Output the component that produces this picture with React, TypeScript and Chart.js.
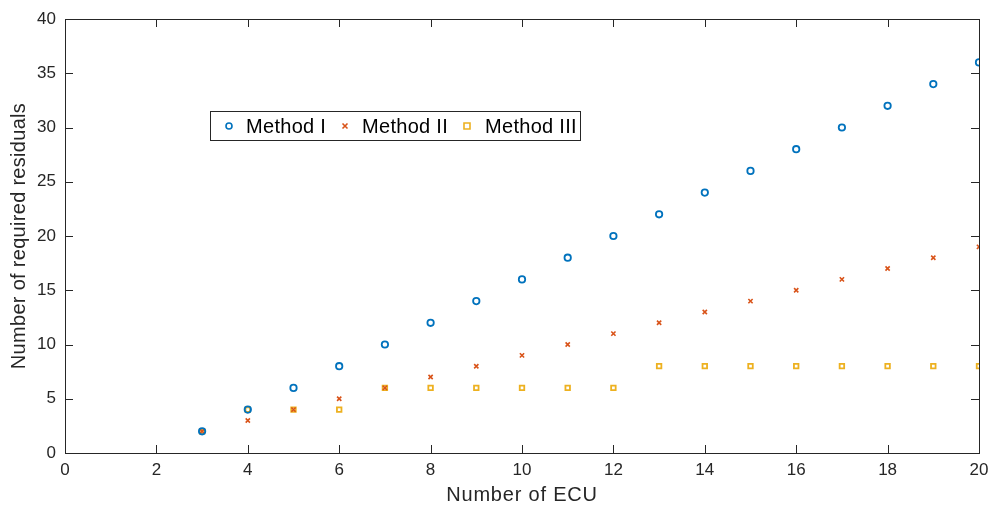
import React, { useEffect, useRef } from "react";
import { Chart, registerables } from "chart.js";

Chart.register(...registerables);

const ecuCounts = [3, 4, 5, 6, 7, 8, 9, 10, 11, 12, 13, 14, 15, 16, 17, 18, 19, 20];
const methodI = [2, 4, 6, 8, 10, 12, 14, 16, 18, 20, 22, 24, 26, 28, 30, 32, 34, 36];
const methodII = [2, 3, 4, 5, 6, 7, 8, 9, 10, 11, 12, 13, 14, 15, 16, 17, 18, 19];
const methodIII = [2, 4, 4, 4, 6, 6, 6, 6, 6, 6, 8, 8, 8, 8, 8, 8, 8, 8];
const seriesNames = ["Method I", "Method II", "Method III"];
const xTitle = "Number of ECU";
const yTitle = "Number of required residuals";
const colors = ["#0072BD", "#D95319", "#EDB120"];
const FONT = "'Liberation Sans', Arial, sans-serif";

const boxPlugin = {
  id: "matlabBox",
  afterDraw(chart: any) {
    const { ctx, chartArea: a, scales } = chart;
    ctx.save();
    ctx.strokeStyle = "#262626";
    ctx.lineWidth = 1;
    ctx.strokeRect(Math.round(a.left) + 0.5, Math.round(a.top) + 0.5, Math.round(a.right - a.left), Math.round(a.bottom - a.top));
    const tl = 8;
    ctx.beginPath();
    scales.x.ticks.forEach((t: any) => {
      const px = Math.round(scales.x.getPixelForValue(t.value)) + 0.5;
      ctx.moveTo(px, a.bottom); ctx.lineTo(px, a.bottom - tl);
      ctx.moveTo(px, a.top); ctx.lineTo(px, a.top + tl);
    });
    scales.y.ticks.forEach((t: any) => {
      const py = Math.round(scales.y.getPixelForValue(t.value)) + 0.5;
      ctx.moveTo(a.left, py); ctx.lineTo(a.left + tl, py);
      ctx.moveTo(a.right, py); ctx.lineTo(a.right - tl, py);
    });
    ctx.stroke();

    // axis titles
    ctx.fillStyle = "#262626";
    ctx.font = `20px ${FONT}`;
    (ctx as any).letterSpacing = "0.8px";
    ctx.textAlign = "center";
    ctx.textBaseline = "middle";
    ctx.fillText(xTitle, (a.left + a.right) / 2, 495);
    ctx.save();
    ctx.translate(19, (a.top + a.bottom) / 2);
    ctx.rotate(-Math.PI / 2);
    (ctx as any).letterSpacing = "0.3px";
    ctx.fillText(yTitle, 0, 0);
    ctx.restore();

    // legend
    const lx = 210.5, ly = 111.5, lw = 370, lh = 29;
    ctx.fillStyle = "#ffffff";
    ctx.fillRect(lx, ly, lw, lh);
    ctx.strokeStyle = "#262626";
    ctx.lineWidth = 1;
    ctx.strokeRect(lx, ly, lw, lh);
    const items = [
      { mx: 229, tx: 246 },
      { mx: 345, tx: 362 },
      { mx: 467, tx: 485 },
    ];
    const cy = ly + lh / 2;
    ctx.font = `20px ${FONT}`;
    (ctx as any).letterSpacing = "0.3px";
    ctx.textBaseline = "middle";
    ctx.textAlign = "left";
    items.forEach((it, i) => {
      ctx.strokeStyle = colors[i];
      ctx.lineWidth = 1.6;
      ctx.beginPath();
      if (i === 0) {
        ctx.arc(it.mx, cy, 3, 0, Math.PI * 2);
      } else if (i === 1) {
        ctx.moveTo(it.mx - 2.5, cy - 2.5); ctx.lineTo(it.mx + 2.5, cy + 2.5);
        ctx.moveTo(it.mx + 2.5, cy - 2.5); ctx.lineTo(it.mx - 2.5, cy + 2.5);
      } else {
        ctx.rect(it.mx - 3, cy - 3, 6, 6);
      }
      ctx.stroke();
      ctx.fillStyle = "#000000";
      ctx.fillText(seriesNames[i], it.tx, cy + 1);
    });
    ctx.restore();
  },
};

export default function App() {
  const ref = useRef<HTMLCanvasElement>(null);
  useEffect(() => {
    document.body.style.margin = "0";
    const mk = (d: number[]) => ecuCounts.map((x, i) => ({ x, y: d[i] }));
    const chart = new Chart(ref.current!, {
      type: "scatter",
      data: {
        datasets: [
          {
            label: seriesNames[0], data: mk(methodI), pointStyle: "circle", pointRadius: 3.2,
            borderColor: colors[0], backgroundColor: "rgba(0,0,0,0)", borderWidth: 1.8,
          },
          {
            label: seriesNames[1], data: mk(methodII), pointStyle: "crossRot", pointRadius: 3,
            borderColor: colors[1], backgroundColor: colors[1], borderWidth: 1.6,
          },
          {
            label: seriesNames[2], data: mk(methodIII), pointStyle: "rect", pointRadius: 3.2,
            borderColor: colors[2], backgroundColor: "rgba(0,0,0,0)", borderWidth: 1.8,
          },
        ],
      },
      options: {
        animation: false,
        responsive: false,
        layout: { padding: { top: 19, right: 12, left: 0, bottom: 0 } },
        plugins: { legend: { display: false }, tooltip: { enabled: false } },
        scales: {
          x: {
            type: "linear", min: 0, max: 20,
            ticks: { stepSize: 2, color: "#262626", font: { size: 17, family: FONT }, padding: 7, maxRotation: 0 },
            grid: { display: false, drawTicks: false },
            border: { display: false },
            title: { display: false },
            afterFit: (s: any) => { s.height = 57; s.paddingRight = 0; s.paddingLeft = 0; },
          },
          y: {
            type: "linear", min: 0, max: 40,
            ticks: { stepSize: 5, color: "#262626", font: { size: 17, family: FONT }, padding: 9 },
            grid: { display: false, drawTicks: false },
            border: { display: false },
            title: { display: false },
            afterFit: (s: any) => { s.width = 65; s.paddingTop = 0; s.paddingBottom = 0; },
          },
        },
      },
      plugins: [boxPlugin],
    });
    return () => chart.destroy();
  }, []);
  return (
    <div style={{ position: "absolute", left: 0, top: 0, width: 991, height: 510, background: "#fff" }}>
      <canvas ref={ref} width={991} height={510} style={{ width: 991, height: 510 }} />
    </div>
  );
}
